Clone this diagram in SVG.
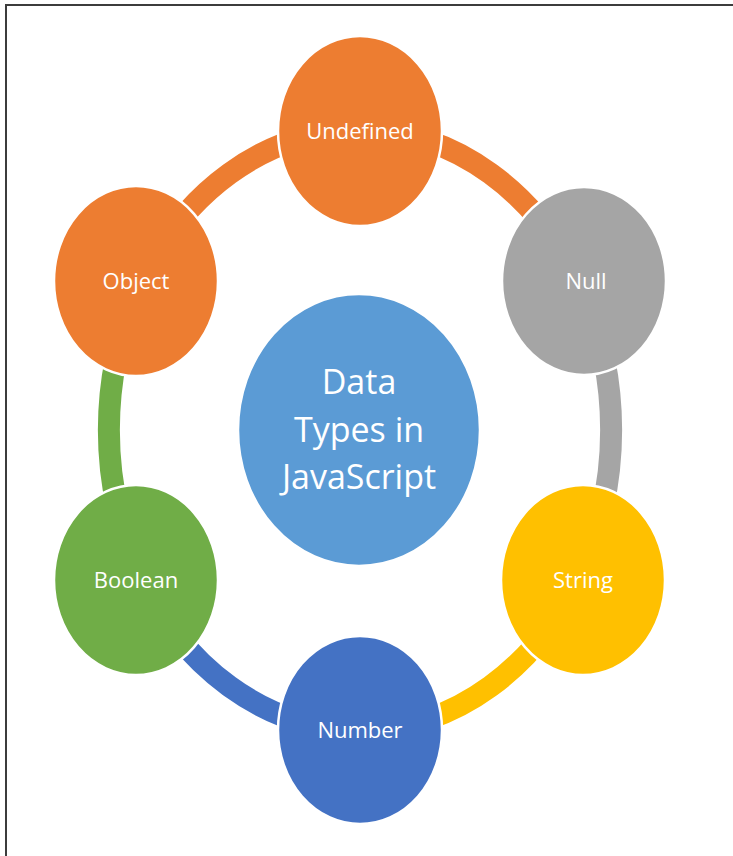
<svg xmlns="http://www.w3.org/2000/svg" width="733" height="856" viewBox="0 0 733 856">
<style>
.lbl{font-family:"Open Sans","Noto Sans","Liberation Sans",sans-serif;font-size:22px;fill:#fff;text-anchor:middle}
.ctr{font-family:"Open Sans","Noto Sans","Liberation Sans",sans-serif;font-size:34px;fill:#fff;text-anchor:middle}
.node{stroke:#fff;stroke-width:2.5}
.arc{fill:none;stroke-width:22}
</style>
<rect width="733" height="856" fill="#fff"/>
<g id="frame" stroke="#3c3c3c" stroke-width="2">
<line x1="5" y1="5" x2="733" y2="5"/>
<line x1="6" y1="4" x2="6" y2="856"/>
</g>
<g id="connectors">
<path class="arc" stroke="#ED7D31" d="M360 130 A251 300 0 0 1 583 292"/>
<path class="arc" stroke="#A5A5A5" d="M583 292 A251 300 0 0 1 583 568"/>
<path class="arc" stroke="#FFC000" d="M583 568 A251 300 0 0 1 360 730"/>
<path class="arc" stroke="#4472C4" d="M360 730 A251 300 0 0 1 137 568"/>
<path class="arc" stroke="#70AD47" d="M137 568 A251 300 0 0 1 137 292"/>
<path class="arc" stroke="#ED7D31" d="M137 292 A251 300 0 0 1 360 130"/>
</g>
<g id="center">
<ellipse class="node" cx="359" cy="430" rx="121" ry="136" fill="#5B9BD5"/>
<text class="ctr" x="359" y="394">Data</text>
<text class="ctr" x="359" y="442">Types in</text>
<text class="ctr" x="359" y="489">JavaScript</text>
</g>
<g id="undefined">
<ellipse class="node" cx="360" cy="131" rx="82" ry="95" fill="#ED7D31"/>
<text class="lbl" x="360" y="139">Undefined</text>
</g>
<g id="null">
<ellipse class="node" cx="584" cy="281" rx="82" ry="94" fill="#A5A5A5"/>
<text class="lbl" x="586" y="289">Null</text>
</g>
<g id="string">
<ellipse class="node" cx="583" cy="580" rx="82" ry="95" fill="#FFC000"/>
<text class="lbl" x="583" y="588">String</text>
</g>
<g id="number">
<ellipse class="node" cx="360" cy="730" rx="82" ry="94" fill="#4472C4"/>
<text class="lbl" x="360" y="738">Number</text>
</g>
<g id="boolean">
<ellipse class="node" cx="136" cy="580" rx="82" ry="95" fill="#70AD47"/>
<text class="lbl" x="136" y="588">Boolean</text>
</g>
<g id="object">
<ellipse class="node" cx="136" cy="281" rx="82" ry="95" fill="#ED7D31"/>
<text class="lbl" x="136" y="289">Object</text>
</g>
</svg>
